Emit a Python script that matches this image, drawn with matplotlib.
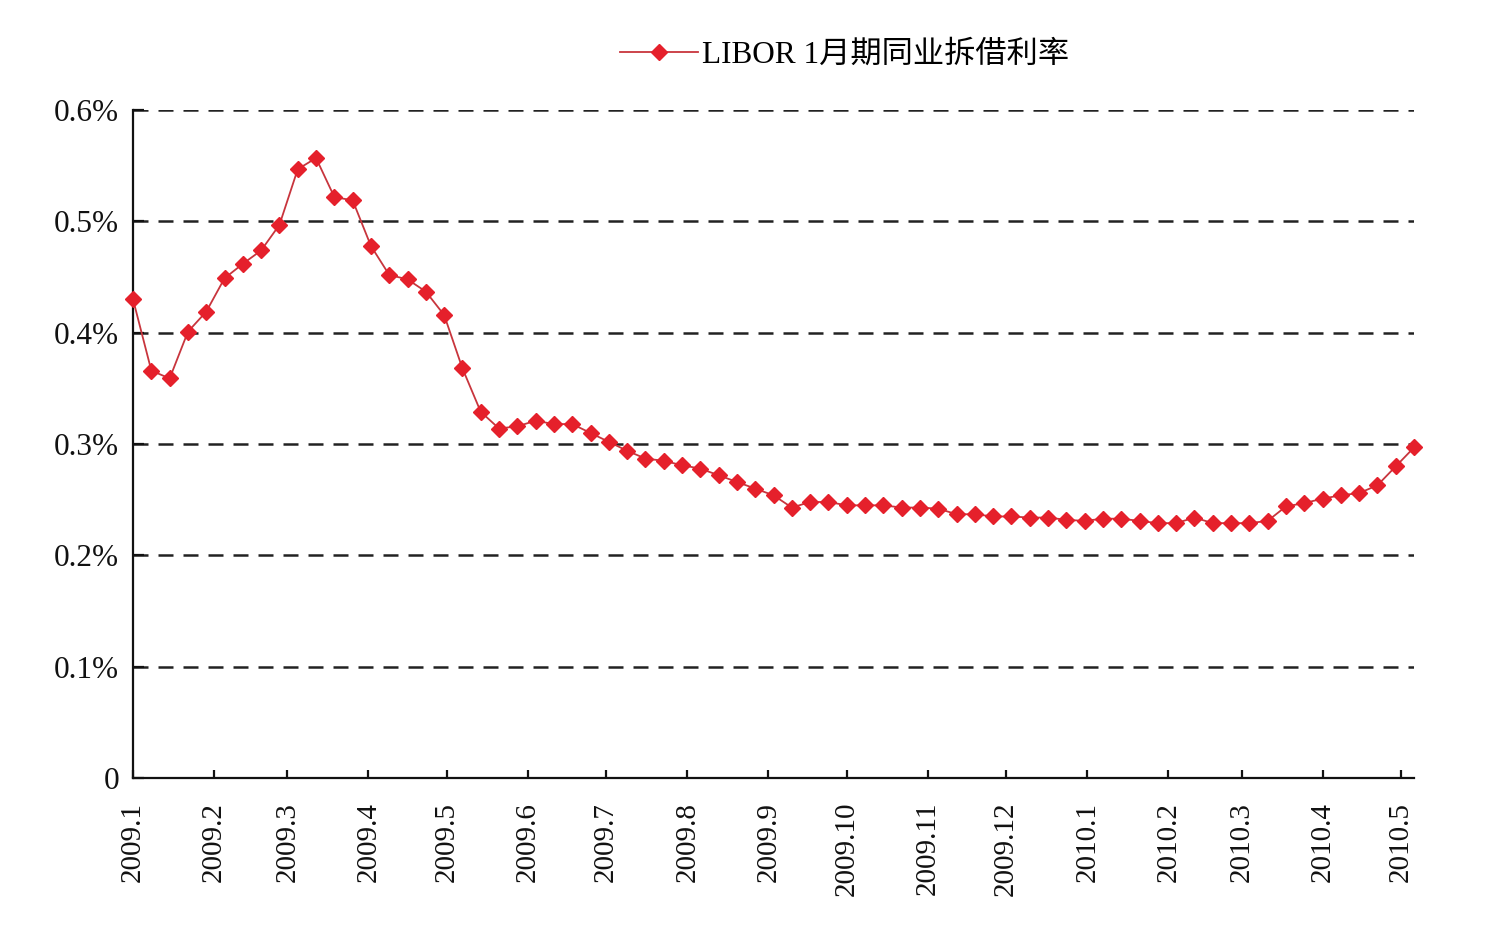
import matplotlib
matplotlib.use('Agg')
import matplotlib.pyplot as plt
import matplotlib.dates as mdates
import numpy as np
import pandas as pd

# weekly LIBOR 1-month rate (%)
start_date = '2009-01-01'
libor_1m = [
    0.430, 0.366, 0.359, 0.401, 0.419, 0.449, 0.462, 0.474, 0.497, 0.547,
    0.557, 0.522, 0.519, 0.478, 0.452, 0.448, 0.437, 0.416, 0.368, 0.329,
    0.314, 0.316, 0.321, 0.318, 0.318, 0.310, 0.302, 0.294, 0.287, 0.285,
    0.281, 0.278, 0.272, 0.266, 0.260, 0.254, 0.243, 0.248, 0.248, 0.245,
    0.245, 0.245, 0.243, 0.243, 0.242, 0.237, 0.237, 0.235, 0.235, 0.234,
    0.234, 0.232, 0.231, 0.233, 0.233, 0.231, 0.229, 0.229, 0.234, 0.229,
    0.229, 0.229, 0.231, 0.244, 0.247, 0.251, 0.254, 0.256, 0.263, 0.280,
    0.297,
]
series_label = 'LIBOR 1月期同业拆借利率'
y_ticks = [0, 0.1, 0.2, 0.3, 0.4, 0.5, 0.6]

dates = pd.date_range(start_date, periods=len(libor_1m), freq='7D')

plt.rcParams['font.family'] = ['Liberation Serif', 'Noto Sans CJK SC']

fig = plt.figure(figsize=(15, 9.26), dpi=100)
ax = fig.add_axes([0.0887, 0.1598, 0.8540, 0.7212])

ax.plot(dates, libor_1m, color='#c8353d', linewidth=1.3, marker='D',
        markersize=8.5, markerfacecolor='#e5202b', markeredgecolor='#e5202b',
        label=series_label, clip_on=False, zorder=3)

ax.set_ylim(0, 0.6)
ax.set_yticks(y_ticks)
ax.set_yticklabels(['0' if v == 0 else f'{v:.1f}%' for v in y_ticks])
ax.set_xlim(dates[0], dates[-1])

ax.xaxis.set_major_locator(mdates.MonthLocator())
ax.xaxis.set_major_formatter(
    matplotlib.ticker.FuncFormatter(lambda v, p: f'{mdates.num2date(v).year}.{mdates.num2date(v).month}'))
plt.setp(ax.get_xticklabels(), rotation=90)

for v in y_ticks[1:]:
    ax.axhline(v, color='#222222', linewidth=1.8, dashes=(6.0, 4.0), zorder=1)

for s in ['top', 'right']:
    ax.spines[s].set_visible(False)
for s in ['left', 'bottom']:
    ax.spines[s].set_linewidth(1.6)
    ax.spines[s].set_color('#111111')

ax.tick_params(axis='y', direction='in', length=8, width=1.6, labelsize=22.5, pad=10, colors='#111111')
ax.tick_params(axis='x', direction='in', length=6, width=1.6, labelsize=21, pad=17, colors='#111111')

fig.legend(loc='center', bbox_to_anchor=(0.563, 0.940), frameon=False,
           fontsize=22.5, handlelength=2.5, handletextpad=0.15)

plt.savefig('out.png', dpi=100)
